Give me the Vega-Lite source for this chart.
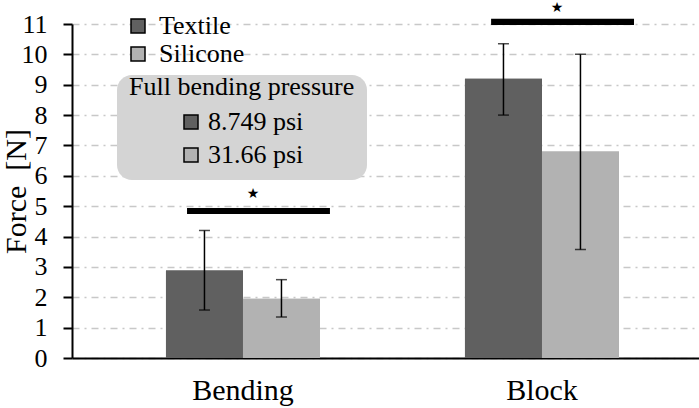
{
  "$schema": "https://vega.github.io/schema/vega-lite/v6.json",
  "width": 627,
  "height": 334,
  "autosize": {"type": "none"},
  "padding": {"left": 72, "top": 24, "right": 0, "bottom": 50},
  "background": "white",
  "config": {
    "font": "Liberation Serif",
    "view": {"stroke": null},
    "axisY": {
      "tickCount": 11,
      "labelOverlap": false,
      "domainColor": "black",
      "domainWidth": 2,
      "tickColor": "black",
      "tickWidth": 2,
      "tickSize": 9,
      "labelFontSize": 26,
      "labelColor": "black",
      "labelPadding": 16,
      "grid": true,
      "gridColor": "#c8c8c8",
      "gridWidth": 1.5,
      "gridDash": [7, 5, 2, 5],
      "titleFontSize": 30,
      "titleFontWeight": "normal",
      "titleColor": "black",
      "titleBaseline": "alphabetic",
      "titleX": -47,
      "titleY": 167
    },
    "axisX": {
      "domainColor": "black",
      "domainWidth": 2,
      "ticks": false,
      "labelAngle": 0,
      "labelFontSize": 30,
      "labelColor": "black",
      "labelPadding": 17,
      "grid": false
    }
  },
  "datasets": {
    "forces": [
      {"Task": "Bending", "Material": "Textile", "Pressure": "8.749 psi", "Force": 2.88, "lo": 1.58, "hi": 4.2},
      {"Task": "Bending", "Material": "Silicone", "Pressure": "31.66 psi", "Force": 1.95, "lo": 1.35, "hi": 2.58},
      {"Task": "Block", "Material": "Textile", "Pressure": "8.749 psi", "Force": 9.2, "lo": 8.0, "hi": 10.35},
      {"Task": "Block", "Material": "Silicone", "Pressure": "31.66 psi", "Force": 6.8, "lo": 3.57, "hi": 10.0}
    ],
    "sig": [
      {"Task": "Bending", "lo": 4.74, "hi": 4.94, "star": 5.4, "mark": "★"},
      {"Task": "Block", "lo": 10.97, "hi": 11.17, "star": 11.54, "mark": "★"}
    ]
  },
  "layer": [
    {
      "data": {"name": "forces"},
      "encoding": {
        "x": {
          "field": "Task",
          "type": "nominal",
          "title": null,
          "scale": {"paddingInner": 0.485, "paddingOuter": 0.291, "align": 0.54}
        },
        "xOffset": {
          "field": "Material",
          "type": "nominal",
          "scale": {"domain": ["Textile", "Silicone"], "paddingInner": 0, "paddingOuter": 0}
        }
      },
      "layer": [
        {
          "mark": "bar",
          "encoding": {
            "y": {
              "field": "Force",
              "type": "quantitative",
              "scale": {"domain": [0, 11], "nice": false},
              "title": "Force\u00a0\u00a0[N]"
            },
            "fill": {
              "field": "Pressure",
              "type": "nominal",
              "scale": {"domain": ["8.749 psi", "31.66 psi"], "range": ["#606060", "#b2b2b2"]},
              "legend": {
                "title": "Full bending pressure",
                "orient": "none",
                "legendX": 45,
                "legendY": 51,
                "padding": 12,
                "fillColor": "#d4d4d4",
                "cornerRadius": 15,
                "titleFontSize": 26,
                "titleFontWeight": "normal",
                "titleColor": "black",
                "titleLimit": 400,
                "titleBaseline": "middle",
                "titlePadding": -4,
                "labelFontSize": 26,
                "labelColor": "black",
                "labelOffset": 4,
                "symbolType": "square",
                "symbolSize": 196,
                "symbolOffset": 49,
                "symbolStrokeColor": "black",
                "symbolStrokeWidth": 1.5,
                "rowPadding": 7
              }
            }
          }
        },
        {
          "mark": "bar",
          "encoding": {
            "y": {"field": "Force", "type": "quantitative", "title": "Force\u00a0\u00a0[N]"},
            "fill": {
              "field": "Material",
              "type": "nominal",
              "scale": {"domain": ["Textile", "Silicone"], "range": ["#606060", "#b2b2b2"]},
              "legend": {
                "title": null,
                "orient": "none",
                "legendX": 53,
                "legendY": -11,
                "padding": 0,
                "labelFontSize": 26,
                "labelColor": "black",
                "labelOffset": 8,
                "symbolType": "square",
                "symbolSize": 196,
                "symbolStrokeColor": "black",
                "symbolStrokeWidth": 1.5,
                "rowPadding": 2
              }
            }
          }
        },
        {
          "mark": {"type": "rule", "color": "black", "strokeWidth": 1.5},
          "encoding": {
            "y": {"field": "lo", "type": "quantitative", "title": "Force\u00a0\u00a0[N]"},
            "y2": {"field": "hi"}
          }
        },
        {
          "mark": {"type": "tick", "color": "black", "thickness": 1.5, "size": 11},
          "encoding": {"y": {"field": "lo", "type": "quantitative", "title": "Force\u00a0\u00a0[N]"}}
        },
        {
          "mark": {"type": "tick", "color": "black", "thickness": 1.5, "size": 11},
          "encoding": {"y": {"field": "hi", "type": "quantitative", "title": "Force\u00a0\u00a0[N]"}}
        }
      ],
      "resolve": {"scale": {"fill": "independent"}}
    },
    {
      "data": {"name": "sig"},
      "encoding": {
        "x": {
          "field": "Task",
          "type": "nominal",
          "scale": {"paddingInner": 0.53, "paddingOuter": 0.296, "align": 0.639},
          "axis": null
        }
      },
      "layer": [
        {
          "mark": {"type": "bar", "color": "black"},
          "encoding": {
            "y": {"field": "lo", "type": "quantitative", "title": "Force\u00a0\u00a0[N]"},
            "y2": {"field": "hi"}
          }
        },
        {
          "mark": {"type": "text", "font": "DejaVu Sans", "fontSize": 14, "color": "black", "dx": -5.5, "baseline": "middle"},
          "encoding": {
            "y": {"field": "star", "type": "quantitative", "title": "Force\u00a0\u00a0[N]"},
            "text": {"field": "mark"}
          }
        }
      ]
    }
  ],
  "resolve": {"scale": {"x": "independent"}}
}
